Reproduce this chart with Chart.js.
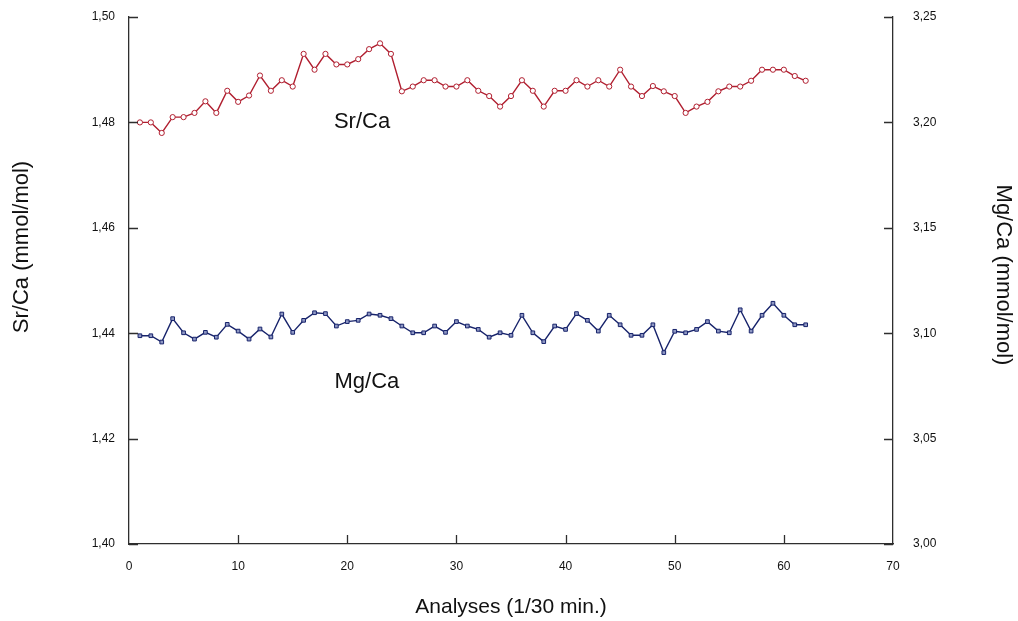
<!DOCTYPE html>
<html>
<head>
<meta charset="utf-8">
<script src="https://cdn.jsdelivr.net/npm/chart.js@4/dist/chart.umd.min.js"></script>
<style>
  html, body { margin: 0; padding: 0; background: #ffffff; }
  #wrap { width: 1018px; height: 621px; }
</style>
</head>
<body>
<div id="wrap"><canvas id="c" width="1018" height="621"></canvas></div>
<script>
// ---- data ----
const analyses = [1,2,3,4,5,6,7,8,9,10,11,12,13,14,15,16,17,18,19,20,21,22,23,24,25,26,27,28,29,30,31,32,33,34,35,36,37,38,39,40,41,42,43,44,45,46,47,48,49,50,51,52,53,54,55,56,57,58,59,60,61,62];
const srCa = [1.4800,1.4800,1.4780,1.4810,1.4810,1.4818,1.4840,1.4818,1.4860,1.4839,
              1.4851,1.4889,1.4860,1.4880,1.4868,1.4930,1.4900,1.4930,1.4910,1.4910,
              1.4920,1.4939,1.4950,1.4930,1.4859,1.4868,1.4880,1.4880,1.4868,1.4868,
              1.4880,1.4860,1.4850,1.4830,1.4850,1.4880,1.4860,1.4830,1.4860,1.4860,
              1.4880,1.4868,1.4880,1.4868,1.4900,1.4868,1.4850,1.4869,1.4859,1.4850,
              1.4818,1.4830,1.4839,1.4859,1.4868,1.4868,1.4879,1.4900,1.4900,1.4900,
              1.4888,1.4879];
const mgCa = [3.0988,3.0988,3.0958,3.1069,3.1002,3.0972,3.1004,3.0981,3.1042,3.1010,
              3.0972,3.1020,3.0982,3.1091,3.1004,3.1061,3.1097,3.1093,3.1034,3.1055,
              3.1061,3.1091,3.1085,3.1069,3.1034,3.1002,3.1002,3.1034,3.1004,3.1055,
              3.1034,3.1018,3.0981,3.1002,3.0990,3.1085,3.1002,3.0960,3.1034,3.1018,
              3.1093,3.1061,3.1010,3.1085,3.1040,3.0990,3.0990,3.1040,3.0908,3.1009,
              3.1002,3.1018,3.1055,3.1010,3.1002,3.1111,3.1010,3.1085,3.1142,3.1085,
              3.1040,3.1040];
const xTicks = [0,10,20,30,40,50,60,70];
const srTicks = [1.40,1.42,1.44,1.46,1.48,1.50];
const mgTicks = [3.00,3.05,3.10,3.15,3.20,3.25];
const xTitle = 'Analyses (1/30 min.)';
const srTitle = 'Sr/Ca (mmol/mol)';
const mgTitle = 'Mg/Ca (mmol/mol)';
const srLabel = 'Sr/Ca';
const mgLabel = 'Mg/Ca';

// ---- styles ----
const FONT = '"Liberation Sans", Arial, Helvetica, sans-serif';
const AXIS = '#2e2e2e';
const RED = '#b01e2f';
const BLUE = '#17236b';
const fmt = v => v.toFixed(2).replace('.', ',');

const inwardTicks = {
  id: 'inwardTicks',
  afterDraw(chart) {
    const ctx = chart.ctx;
    const a = chart.chartArea;
    const sx = chart.scales.x, sl = chart.scales.ySr, sr = chart.scales.yMg;
    ctx.save();
    ctx.strokeStyle = AXIS;
    ctx.lineWidth = 1.3;
    ctx.beginPath();
    xTicks.forEach(v => {
      if (v === 0 || v === 70) return;
      const p = Math.round(sx.getPixelForValue(v)) + 0.5;
      ctx.moveTo(p, a.bottom); ctx.lineTo(p, a.bottom - 9);
    });
    srTicks.forEach(v => {
      const p = Math.round(sl.getPixelForValue(v)) + 0.5;
      ctx.moveTo(a.left, p); ctx.lineTo(a.left + 9, p);
    });
    mgTicks.forEach(v => {
      const p = Math.round(sr.getPixelForValue(v)) + 0.5;
      ctx.moveTo(a.right, p); ctx.lineTo(a.right - 9, p);
    });
    ctx.stroke();

    // in-plot labels
    ctx.fillStyle = '#111';
    ctx.font = '22px ' + FONT;
    ctx.textAlign = 'center';
    ctx.textBaseline = 'middle';
    ctx.fillText(srLabel, sx.getPixelForValue(21.35), sl.getPixelForValue(1.4800));
    ctx.fillText(mgLabel, sx.getPixelForValue(21.8), sl.getPixelForValue(1.4307));

    // axis titles
    ctx.font = '21px ' + FONT;
    ctx.fillText(xTitle, (a.left + a.right) / 2, 607);
    ctx.font = '22px ' + FONT;
    ctx.save();
    ctx.translate(22, 247);
    ctx.rotate(-Math.PI / 2);
    ctx.fillText(srTitle, 0, 0);
    ctx.restore();
    ctx.save();
    ctx.translate(1003, 275);
    ctx.rotate(Math.PI / 2);
    ctx.fillText(mgTitle, 0, 0);
    ctx.restore();
    ctx.restore();
  }
};

const fitY = w => s => { s.width = w; s.paddingTop = 0; s.paddingBottom = 0; };

new Chart(document.getElementById('c'), {
  type: 'scatter',
  data: {
    datasets: [
      {
        label: srLabel,
        data: analyses.map((x, i) => ({ x: x, y: srCa[i] })),
        yAxisID: 'ySr',
        showLine: true,
        borderColor: RED,
        borderWidth: 1.4,
        pointStyle: 'circle',
        pointRadius: 2.6,
        pointBorderWidth: 1,
        pointBorderColor: RED,
        pointBackgroundColor: '#ffffff',
        tension: 0
      },
      {
        label: mgLabel,
        data: analyses.map((x, i) => ({ x: x, y: mgCa[i] })),
        yAxisID: 'yMg',
        showLine: true,
        borderColor: BLUE,
        borderWidth: 1.4,
        pointStyle: 'rect',
        pointRadius: 2.6,
        pointBorderWidth: 1,
        pointBorderColor: BLUE,
        pointBackgroundColor: '#8f98c4',
        tension: 0
      }
    ]
  },
  options: {
    responsive: false,
    animation: false,
    devicePixelRatio: 1,
    layout: { padding: { top: 17, left: 0, right: 0, bottom: 0 } },
    plugins: { legend: { display: false }, tooltip: { enabled: false } },
    scales: {
      x: {
        type: 'linear',
        min: 0, max: 70,
        afterBuildTicks: s => { s.ticks = xTicks.map(v => ({ value: v })); },
        afterFit: s => { s.height = 77; s.paddingLeft = 0; s.paddingRight = 0; },
        grid: { display: true, drawOnChartArea: false, drawTicks: false },
        border: { display: true, color: AXIS, width: 1.3 },
        ticks: { color: '#111', font: { family: FONT, size: 12 }, padding: 15, maxRotation: 0, autoSkip: false }
      },
      ySr: {
        type: 'linear',
        position: 'left',
        min: 1.40, max: 1.50,
        afterBuildTicks: s => { s.ticks = srTicks.map(v => ({ value: v })); },
        afterFit: fitY(129),
        grid: { display: true, drawOnChartArea: false, drawTicks: false },
        border: { display: true, color: AXIS, width: 1.3 },
        ticks: { color: '#111', font: { family: FONT, size: 12 }, padding: 14, callback: v => fmt(v), autoSkip: false }
      },
      yMg: {
        type: 'linear',
        position: 'right',
        min: 3.00, max: 3.25,
        afterBuildTicks: s => { s.ticks = mgTicks.map(v => ({ value: v })); },
        afterFit: fitY(125),
        grid: { display: true, drawOnChartArea: false, drawTicks: false },
        border: { display: true, color: AXIS, width: 1.3 },
        ticks: { color: '#111', font: { family: FONT, size: 12 }, padding: 20, callback: v => fmt(v), autoSkip: false }
      }
    }
  },
  plugins: [inwardTicks]
});
</script>
</body>
</html>
